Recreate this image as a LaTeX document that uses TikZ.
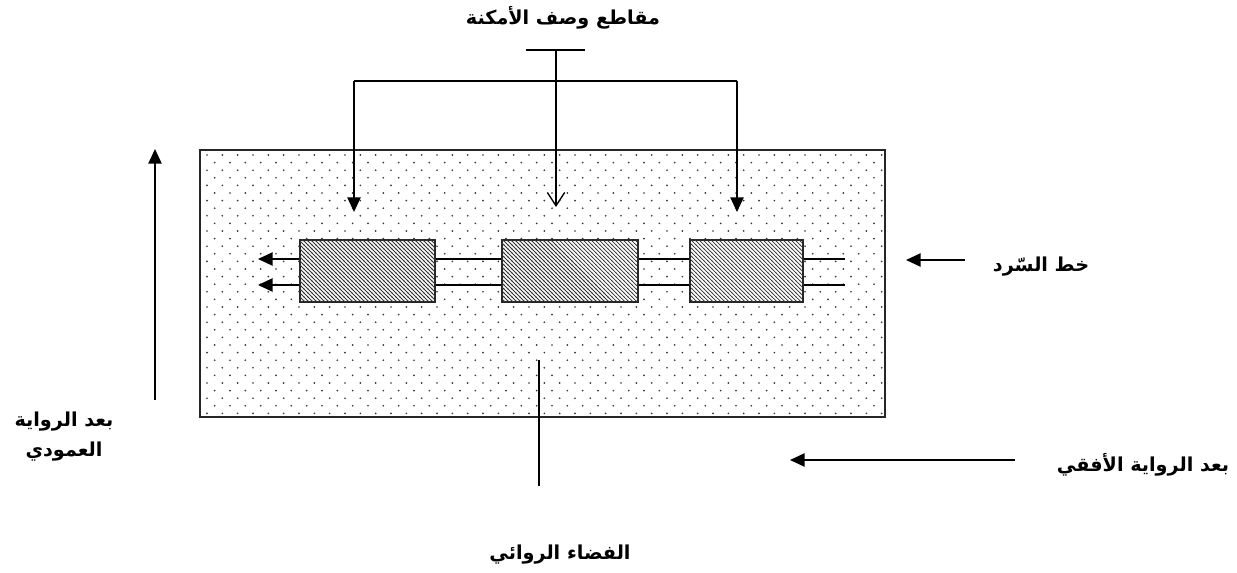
\documentclass[tikz,border=0pt]{standalone}
\usepackage{fontspec}
\newfontfamily\arabicfont[Script=Arabic]{DejaVu Sans}
\TeXXeTstate=1
\usetikzlibrary{arrows.meta,patterns}
\pgfdeclarepatternformonly{sparsedots}{\pgfpoint{-1pt}{-1pt}}{\pgfpoint{12.5pt}{12.4pt}}{\pgfpoint{11.5pt}{11.4pt}}{\pgfpathcircle{\pgfpointorigin}{0.7pt}\pgfpathcircle{\pgfpoint{5.75pt}{5.7pt}}{0.7pt}\pgfusepath{fill}}
\pgfdeclarepatternformonly{hatchnw}{\pgfpoint{-0.5pt}{-0.5pt}}{\pgfpoint{3.5pt}{3.5pt}}{\pgfpoint{3pt}{3pt}}{\pgfsetlinewidth{0.55pt}\pgfpathmoveto{\pgfpoint{-0.3pt}{3.3pt}}\pgfpathlineto{\pgfpoint{3.3pt}{-0.3pt}}\pgfusepath{stroke}}
\tikzset{
  hbox/.style={draw=black!85,line width=1.2pt,fill=white,postaction={pattern=hatchnw,pattern color=black!80},minimum height=46.5pt,inner sep=0pt},
  lbl/.style={font=\arabicfont\bfseries\fontsize{14.4}{22.5}\selectfont,inner sep=1pt},
  conn/.style={line width=1.1pt},
  tri/.style={conn,-{Triangle[length=11pt,width=10pt]}},
  openarr/.style={conn,-{Straight Barb[length=10pt,width=13pt,line width=1pt]}}
}
\begin{document}
\begin{tikzpicture}[x=0.75pt,y=-0.75pt]
\useasboundingbox (0,0) rectangle (1237,573);
% narrative space
\node[draw=black!85,line width=1.1pt,fill=white,postaction={pattern=sparsedots,pattern color=black!80},minimum width=513.75pt,minimum height=200.25pt,inner sep=0pt] (space) at (542.5,283.5) {};
% place segments
\node[hbox,minimum width=101.25pt] (b1) at (367.5,271) {};
\node[hbox,minimum width=102pt] (b2) at (570,271) {};
\node[hbox,minimum width=84.75pt] (b3) at (746.5,271) {};
% narrative line ends
\coordinate (l1) at (258,259);
\coordinate (l2) at (258,285);
\coordinate (r1) at (845,259);
\coordinate (r2) at (845,285);
\draw[tri] (b1.west |- l1) -- (l1);
\draw[tri] (b1.west |- l2) -- (l2);
\draw[conn] (b1.east |- l1) -- (b2.west |- l1);
\draw[conn] (b1.east |- l2) -- (b2.west |- l2);
\draw[conn] (b2.east |- l1) -- (b3.west |- l1);
\draw[conn] (b2.east |- l2) -- (b3.west |- l2);
\draw[conn] (b3.east |- r1) -- (r1);
\draw[conn] (b3.east |- r2) -- (r2);
% title and its connectors
\node[lbl] (title) at (563,18) {\beginR مقاطع وصف الأمكنة\endR};
\coordinate (barL) at (526,50);
\coordinate (barR) at (585,50);
\coordinate (barM) at (556,50);
\coordinate (hL) at (354,81);
\coordinate (hR) at (737,81);
\coordinate (t1) at (354,212);
\coordinate (t2) at (556,207);
\coordinate (t3) at (737,212);
\draw[conn] (barL) -- (barR);
\draw[conn] (hL) -- (hR);
\draw[tri] (hL) -- (t1);
\draw[tri] (hR) -- (t3);
\draw[openarr] (barM) -- (t2);
% narrative line label
\node[lbl] (khatt) at (1041,267) {\beginR خط السّرد\endR};
\coordinate (ka) at (965,260);
\coordinate (kb) at (906,260);
\draw[tri] (ka) -- (kb);
% horizontal dimension
\node[lbl] (ufuqi) at (1143,465) {\beginR بعد الرواية الأفقي\endR};
\coordinate (ua) at (1015,460);
\coordinate (ub) at (790,460);
\draw[tri] (ua) -- (ub);
% vertical dimension
\node[lbl] (amudiA) at (64,422) {\beginR بعد الرواية\endR};
\node[lbl] (amudiB) at (64,452) {\beginR العمودي\endR};
\coordinate (va) at (155,400);
\coordinate (vb) at (155,149);
\draw[tri] (va) -- (vb);
% fictional space
\node[lbl] (fada) at (560,555) {\beginR الفضاء الروائي\endR};
\coordinate (fa) at (539,360);
\coordinate (fb) at (539,486);
\draw[conn] (fa) -- (fb);
\end{tikzpicture}
\end{document}
